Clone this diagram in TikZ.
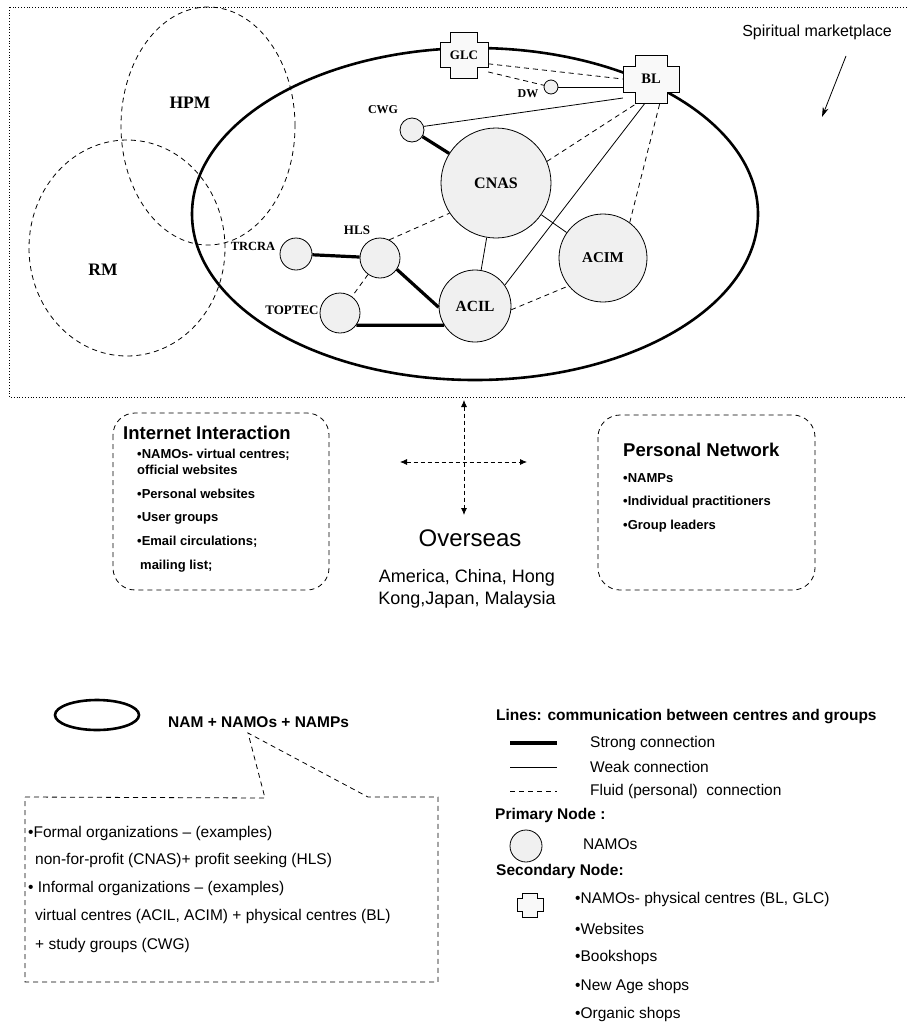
\documentclass[tikz,border=0pt]{standalone}
\usepackage{fontspec}
\setmainfont{Liberation Serif}
\setsansfont{Liberation Sans}
\usetikzlibrary{arrows.meta}
\usetikzlibrary{positioning}

\newcommand{\fsz}[1]{\fontsize{#1}{#1}\selectfont}
% cross shaped marker: centre, half width, half height
\newcommand{\plusmark}[3]{%
 \draw[plusline, shift={(#1)}, xscale=#2, yscale=#3] (-0.57,-1) -- (0.57,-1) -- (0.57,-0.54) -- (1,-0.54) -- (1,0.54) -- (0.57,0.54) -- (0.57,1) -- (-0.57,1) -- (-0.57,0.54) -- (-1,0.54) -- (-1,-0.54) -- (-0.57,-0.54) -- cycle;}

\tikzset{
  namo/.style={circle, draw, line width=0.8pt, fill=gray!12, inner sep=0pt, minimum size=#1},
  plusline/.style={line width=0.8pt, fill=gray!5},
  plusnode/.style 2 args={rectangle, inner sep=0pt, minimum width=#1, minimum height=#2},
  lbl/.style={font=\bfseries\fsz{#1}}, lbl/.default=13,
  strong/.style={line width=3.2pt},
  weak/.style={line width=0.8pt},
  fluid/.style={line width=0.8pt, dash pattern=on 5pt off 4pt},
  market/.style={line width=2.6pt},
  zone/.style={line width=0.8pt, dash pattern=on 5pt off 4pt},
  roundbox/.style={line width=0.8pt, dash pattern=on 5pt off 4pt, rounded corners=22pt},
  callout/.style={line width=0.8pt, dash pattern=on 5pt off 4pt},
  twoway/.style={line width=0.8pt, dash pattern=on 4pt off 3pt, <->, >={Latex[length=7pt,width=6pt]}},
  txt/.style={font=\sffamily\fsz{15.5}, anchor=west, inner sep=0pt},
  btxt/.style={font=\sffamily\bfseries\fsz{#1}, anchor=west, inner sep=0pt}, btxt/.default=15.5,
}

\begin{document}
\begin{tikzpicture}[x=1pt,y=-1pt]
\useasboundingbox (0,0) rectangle (907,1028);

% the market
\draw[line width=0.8pt, dotted] (9,7) rectangle (940,397);
\draw[market] (475,214) ellipse [x radius=283pt, y radius=166pt];
\draw[zone] (208,126) ellipse [x radius=87pt, y radius=119pt];
\draw[zone] (127,248) ellipse [x radius=98pt, y radius=108pt];
\node[lbl=17.5] (HPM) at (190,103) {HPM};
\node[lbl=17.5] (RM) at (103,270) {RM};

% secondary nodes
\plusmark{464,55}{24}{23}
\node[plusnode={48pt}{46pt}, lbl=13] (GLC) at (464,55) {GLC};
\plusmark{651,79}{28}{24}
\node[plusnode={56pt}{48pt}, lbl=14.5] (BL) at (651,79) {BL};

% primary nodes
\node[namo=110pt, lbl=16] (CNAS) at (496,183) {CNAS};
\node[namo=88pt, lbl=15] (ACIM) at (603,258) {ACIM};
\node[namo=72pt, lbl=15.5] (ACIL) at (475,306) {ACIL};
\node[namo=40pt] (HLS) at (380,258) {};
\node[namo=32pt] (TRCRA) at (296,254) {};
\node[namo=40pt] (TOPTEC) at (340,313) {};
\node[namo=24pt] (CWG) at (412,130) {};
\node[namo=14pt] (DW) at (551,87) {};
\node[lbl=12] (cwgtext) at (383,110) {CWG};
\node[lbl=13] (hlstext) at (357,230) {HLS};
\node[lbl=12.5] (trcratext) at (253,246) {TRCRA};
\node[lbl=13] (toptectext) at (292,310) {TOPTEC};
\node[lbl=12] (dwtext) at (528,94) {DW};

% connections
\draw[strong] (CWG) -- (CNAS);
\draw[strong] (TRCRA) -- (HLS);
\draw[strong] (HLS.-34) -- (ACIL.182);
\draw[strong] (TOPTEC.-37) -- (ACIL.212);
\draw[weak] (CNAS) -- (ACIL);
\draw[weak] (CNAS) -- (ACIM);
\draw[weak] (ACIL.35) -- (BL.-104);
\draw[weak] (CWG.17) -- (BL.-146);
\draw[weak] (DW.east) -- (DW.east -| BL.west);
\draw[fluid] (HLS.63) -- (CNAS.213);
\draw[fluid] (HLS) -- (TOPTEC);
\draw[fluid] (ACIL.-6) -- (ACIM.219);
\draw[fluid] (CNAS.23) -- (BL.-120);
\draw[fluid] (ACIM.53) -- (BL.-70);
\draw[fluid] (GLC.-20) -- (BL.west);
\draw[fluid] (GLC.-35) -- (DW);

\node[font=\sffamily\fsz{16}] (spm) at (817,32) {Spiritual marketplace};
\coordinate (spmtail) at (846,56);
\coordinate (spmhead) at (822,117);
\draw[line width=0.8pt, -{Stealth[length=10pt,width=6pt]}] (spmtail) -- (spmhead);

% overseas
\coordinate (up) at (464,400);
\coordinate (down) at (464,515);
\coordinate (west) at (400,462);
\coordinate (east) at (527,462);
\draw[twoway] (up) -- (down);
\draw[twoway] (west) -- (east);
\node[font=\sffamily\fsz{24}] (overseas) at (470,538) {Overseas};
\node[font=\sffamily\fontsize{18}{22}\selectfont, align=center] (countries) at (467,589) {America, China, Hong\\Kong,Japan, Malaysia};

% internet
\draw[roundbox] (113,413) rectangle (329,590);
\node[btxt=18.5] (inet) at (123,433) {Internet Interaction};
\node[btxt=13] (inet0) at (137,455) {•NAMOs- virtual centres;};
\node[btxt=13] (inet0b) at (137,470) {official websites};
\foreach \t [count=\i] in {•Personal websites, •User groups, {•Email circulations;}}
  \node[btxt=13] (inet\i) at (137,{470+24*\i}) {\t};
\node[btxt=13] (inet4) at (140,566) {mailing list;};

% personal
\draw[roundbox] (598,415) rectangle (815,590);
\node[btxt=18.5] (pnet) at (623,450) {Personal Network};
\foreach \t [count=\i] in {NAMPs, Individual practitioners, Group leaders}
  \node[btxt=13] (pnet\i) at (623,{454+24*\i}) {•\t};

% key: the market
\draw[market] (97,715) ellipse [x radius=42pt, y radius=15pt];
\node[btxt] (namlbl) at (168,722) {NAM + NAMOs + NAMPs};
\draw[callout] (25,797) -- (265,798) -- (248,733) -- (368,797) -- (438,797) -- (438,982) -- (25,982) -- cycle;
\node[txt] (org1) at (28,833) {•Formal organizations – (examples)};
\node[txt] (org2) at (35,860) {non-for-profit (CNAS)+ profit seeking (HLS)};
\node[txt] (org3) at (28,888) {• Informal organizations – (examples)};
\node[txt] (org4) at (35,916) {virtual centres (ACIL, ACIM) + physical centres (BL)};
\node[txt] (org5) at (35,945) {+ study groups (CWG)};

% key: lines and nodes
\node[btxt] (lines) at (496,717) {Lines: communication between centres and groups};
\foreach \s/\t [count=\i] in {strong/Strong connection, weak/Weak connection, fluid/Fluid (personal)\ \ connection} {
  \coordinate (la\i) at (510,{719+24*\i});
  \coordinate (lb\i) at (557,{719+24*\i});
  \draw[\s] (la\i) -- (lb\i);
  \node[txt] (lt\i) at (590,{719+24*\i}) {\t};
}
\node[btxt] (primary) at (495,815) {Primary Node :};
\node[namo=32pt] (namokey) at (526,846) {};
\node[txt] (namotxt) at (583,844) {NAMOs};
\node[btxt] (secondary) at (496,871) {Secondary Node:};
\plusmark{530,905}{13}{12}
\foreach \t [count=\i] in {{•NAMOs- physical centres (BL, GLC)}, •Websites, •Bookshops, •New Age shops, •Organic shops}
  \node[txt] (sec\i) at (575,{871+28.75*\i}) {\t};
\end{tikzpicture}
\end{document}
